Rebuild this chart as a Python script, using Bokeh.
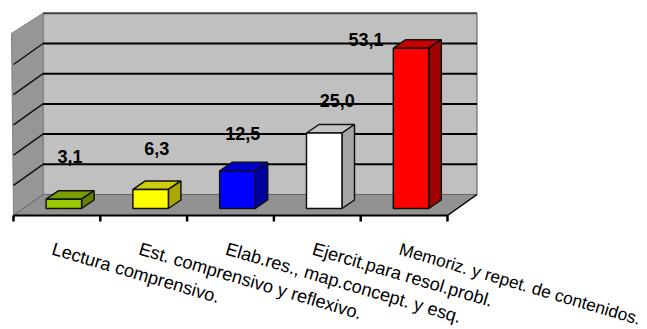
from math import radians
from bokeh.plotting import figure
from bokeh.models import ColumnDataSource
from bokeh.core.properties import value
from bokeh.embed import file_html
from bokeh.resources import INLINE

categories = ["Lectura comprensivo.", "Est. comprensivo y reflexivo.", "Elab.res., map.concept. y esq.",
              "Ejercit.para resol.probl.", "Memoriz. y repet. de contenidos."]
values = [3.1, 6.3, 12.5, 25.0, 53.1]
value_labels = ["3,1", "6,3", "12,5", "25,0", "53,1"]
y_ticks = [0, 10, 20, 30, 40, 50, 60]
x_ticks = [0, 1, 2, 3, 4, 5]

front_colors = ["#99cc00", "#ffff00", "#0000ff", "#ffffff", "#ff0000"]
top_colors = ["#7a9e00", "#cccc00", "#0000cc", "#c4c4c4", "#c80000"]
side_colors = ["#667f00", "#a8a800", "#0000a0", "#a6a6a6", "#a00000"]

label_x = [0.65, 1.65, 2.64, 3.73, 4.06]
label_y = [19.6, 22.3, 27.2, 38.2, 58.4]
cat_sizes = ["18.2px", "18.2px", "18.2px", "18.2px", "17.3px"]

PX_X = 86.8     # pixels per category
PX_Y = 3.02     # pixels per value unit
WALL_DX = 29.5 / PX_X
WALL_DY = 21 / PX_Y
BAR_W = 35.5 / PX_X
BAR_C = 0.58
BAR_BASE = 7 / PX_Y
BAR_DX = 12.5 / PX_X
BAR_DY = 8.5 / PX_Y

W, H = 647, 329
x0 = (0 - 13) / PX_X
y1 = (215 - 0) / PX_Y
p = figure(width=W, height=H, output_backend="svg", toolbar_location=None,
           x_range=(x0, x0 + W / PX_X), y_range=(y1 - H / PX_Y, y1),
           x_axis_type=None, y_axis_type=None, min_border=0,
           outline_line_color=None, background_fill_color="white", border_fill_color="white")
p.grid.visible = False

top = y_ticks[-1]
n = x_ticks[-1]
# back wall, left wall, floor
p.patch([WALL_DX, n + WALL_DX, n + WALL_DX, WALL_DX], [WALL_DY, WALL_DY, top + WALL_DY, top + WALL_DY],
        fill_color="#c0c0c0", line_color="#555555", line_width=1)
p.patch([-0.023, WALL_DX, WALL_DX, 0], [top + 0.3, top + WALL_DY, WALL_DY, 0],
        fill_color="#969696", line_color="#808080", line_width=1)
p.patch([0, n, n + WALL_DX, WALL_DX], [0, 0, WALL_DY, WALL_DY],
        fill_color="#929292", line_color="#666666", line_width=1)

# gridlines on back and left walls
grid = y_ticks[1:-1]
p.segment([WALL_DX] * len(grid), [g + WALL_DY for g in grid], [n + WALL_DX] * len(grid), [g + WALL_DY for g in grid],
          line_color="#000000", line_width=2)
p.segment([0] * len(grid), grid, [WALL_DX] * len(grid), [g + WALL_DY for g in grid],
          line_color="#111111", line_width=1.5)
p.segment([WALL_DX], [top + WALL_DY], [n + WALL_DX], [top + WALL_DY], line_color="#444444", line_width=2)

# front axis with ticks
p.segment([0], [0], [n], [0], line_color="#000000", line_width=2)
p.segment([n], [0], [n + WALL_DX], [WALL_DY], line_color="#000000", line_width=1.5)
p.segment(x_ticks, [0] * len(x_ticks), x_ticks, [-5 / PX_Y * 1.2] * len(x_ticks), line_color="#000000", line_width=2.5)

# 3D bars
for i, v in enumerate(values):
    l, r = i + BAR_C - BAR_W / 2, i + BAR_C + BAR_W / 2
    b, t = BAR_BASE, BAR_BASE + v
    p.patch([l, r, r + BAR_DX, l + BAR_DX], [t, t, t + BAR_DY, t + BAR_DY],
            fill_color=top_colors[i], line_color="#111111", line_width=1.5)
    p.patch([r, r + BAR_DX, r + BAR_DX, r], [b, b + BAR_DY, t + BAR_DY, t],
            fill_color=side_colors[i], line_color="#111111", line_width=1.5)
    p.patch([l, r, r, l], [b, b, t, t],
            fill_color=front_colors[i], line_color="#111111", line_width=1.5)

# value labels
src = ColumnDataSource(dict(x=label_x, y=label_y, t=value_labels))
p.text("x", "y", text="t", source=src, text_align="center", text_baseline="alphabetic",
       text_font=value("Liberation Sans"), text_font_size="18px", text_font_style="bold", text_color="#000000")

# slanted category labels
cat_x = [i + 0.45 for i in range(len(categories))]
cat_y = [-10.9] * len(categories)
src2 = ColumnDataSource(dict(x=cat_x, y=cat_y, t=categories, fs=cat_sizes))
p.text("x", "y", text="t", source=src2, angle=radians(-16.4), text_align="left", text_baseline="alphabetic",
       text_font=value("Liberation Sans"), text_font_size="fs", text_color="#000000")

open("out.html", "w").write(file_html(p, INLINE))
